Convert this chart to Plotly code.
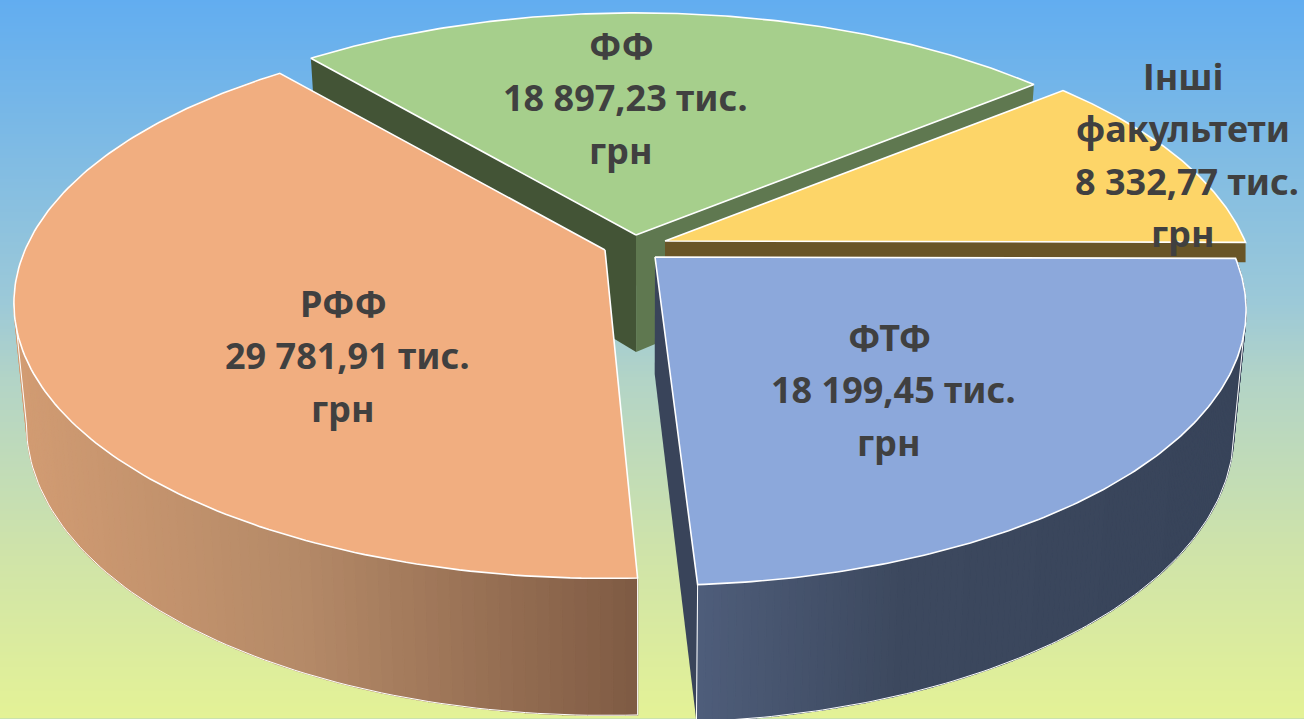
import numpy as np
import plotly.graph_objects as go

# ---- data ----
names = ["РФФ", "ФФ", "Інші факультети", "ФТФ"]
values = [29781.91, 18897.23, 8332.77, 18199.45]
value_labels = ["29 781,91 тис.", "18 897,23 тис.", "8 332,77 тис.", "18 199,45 тис."]
unit = "грн"

# ---- styling / layout (pixels) ----
W, H = 1304, 719
start_deg = 177.4
last_edge_trim = 0.8
RX, RY, K = 580.0, 265.0, 0.193
apex = [(605, 250), (636, 235), (665, 241), (655, 257)]
top_col = ["#F1AE80", "#A6CF8C", "#FDD568", "#8CA8DB"]
depth_front, depth_mid = 20.0, 117.0
shrink = 0.98
label_pos = [(347, 303), (625, 45), (1187, 76), (893, 337)]
text_indent = -4
LINE = 52.5
bg_stops = [[0, "#62ADF0"], [0.42, "#9CC9D8"], [0.53, "#B3D4C6"], [0.78, "#D0E4A8"], [1, "#E4F296"]]


def hex2rgb(h):
    return np.array([int(h[i:i + 2], 16) for i in (1, 3, 5)], float)


def mix(stops, x):
    xs = [p[0] for p in stops]
    cols = np.array([hex2rgb(p[1]) for p in stops])
    return "rgb(%d,%d,%d)" % tuple(np.interp(x, xs, cols[:, i]) for i in range(3))


def proj(theta_deg, r=1.0):
    t = np.radians(theta_deg)
    u, v = np.sin(t) * r, np.cos(t) * r
    s = 1 / (1 + K * v)
    return RX * u * s, -RY * v * s, v


def down(x, y, v):
    """Lower rim of the extruded body below a point of the upper face."""
    return W / 2 - 12 + (x - (W / 2 - 12)) * shrink, y + depth_mid - depth_front * v


def face(i, th0, th1):
    ts = np.linspace(th0, th1, 160)
    px, py, _ = proj(ts)
    ax, ay = apex[i]
    return [ax] + list(ax + px) + [ax], [ay] + list(ay + py) + [ay]


def poly(xs, ys, col, lw=0.0, lc=None):
    return go.Scatter(x=xs, y=ys, mode="lines", fill="toself", fillcolor=col,
                      line=dict(color=lc or col, width=lw), hoverinfo="skip", showlegend=False)


def cut_wall(i, th, col, drop=None):
    ax, ay = apex[i]
    px, py, v = proj(th)
    ex, ey = ax + px, ay + py
    if drop is None:
        bax, bay = down(ax, ay, 0)
        bex, bey = down(ex, ey, v)
    else:
        bax, bay, bex, bey = ax, ay + drop, ex, ey + drop
    return poly([ax, ex, bex, bax, ax], [ay, ey, bey, bay, ay], col)


def rim(i, th0, th1, stops, n=140):
    out = []
    ax, ay = apex[i]
    ts = np.linspace(th0, th1, n + 1)
    px, py, v = proj(ts)
    ex, ey = ax + px, ay + py
    bx, by = down(ex, ey, v)
    for j in range(n):
        mid = (ex[j] + ex[j + 1]) / 2
        c = mix(stops, mid)
        out.append(poly([ex[j], ex[j + 1], bx[j + 1], bx[j], ex[j]],
                        [ey[j], ey[j + 1], by[j + 1], by[j], ey[j]], c, 1.2))
    idx = np.where(v <= -K)[0]
    out.append(go.Scatter(x=[ex[idx[0]]] + list(bx[idx]) + [ex[idx[-1]]],
                          y=[ey[idx[0]]] + list(by[idx]) + [ey[idx[-1]]], mode="lines",
                          line=dict(color="#FFFFFF", width=1.0), hoverinfo="skip", showlegend=False))
    return out


total = sum(values)
spans = [v / total * 360 for v in values]
ang = [start_deg]
for sp in spans:
    ang.append(ang[-1] + sp)
ang[4] -= last_edge_trim

fig = go.Figure()
ys = np.arange(0, H + 1, 3)
fig.add_trace(go.Heatmap(x=[0, W], y=ys, z=[[float(y) / H] * 2 for y in ys], colorscale=bg_stops,
                         zmin=0, zmax=1, showscale=False, hoverinfo="skip"))

EDGE = dict(lw=1.6, lc="#FFFFFF")
# ФФ (back)
fig.add_trace(cut_wall(1, ang[1], "#435436"))
fig.add_trace(cut_wall(1, ang[2], "#5F7850"))
x, y = face(1, ang[1], ang[2])
fig.add_trace(poly(x, y, top_col[1], **EDGE))
# Інші
fig.add_trace(cut_wall(2, ang[3], "#695527", drop=20))
x, y = face(2, ang[2], ang[3])
fig.add_trace(poly(x, y, top_col[2], **EDGE))
# РФФ
for tr in rim(0, ang[0], ang[1], [[17, "#D29C73"], [300, "#B58A68"], [637, "#7F5B44"]]):
    fig.add_trace(tr)
x, y = face(0, ang[0], ang[1])
fig.add_trace(poly(x, y, top_col[0], **EDGE))
# ФТФ
fig.add_trace(cut_wall(3, ang[4] - 360, "#39445A"))
for tr in rim(3, ang[3], ang[4], [[695, "#4F5E7B"], [900, "#3D495F"], [1240, "#38445A"]]):
    fig.add_trace(tr)
x, y = face(3, ang[3], ang[4])
fig.add_trace(poly(x, y, top_col[3], **EDGE))

lines = []
for nm, vl in zip(names, value_labels):
    lines.append(nm.split(" ") + [vl, unit])
for (lx, ly), ls in zip(label_pos, lines):
    for k, t in enumerate(ls):
        dx = 0 if t in value_labels else text_indent
        fig.add_annotation(x=lx + dx, y=ly + k * LINE, text=t, showarrow=False, xanchor="center", yanchor="middle",
                           font=dict(family="Noto Sans", size=36, color="#404040", weight="bold"))

fig.update_xaxes(range=[0, W], visible=False, fixedrange=True)
fig.update_yaxes(range=[H, 0], visible=False, fixedrange=True)
fig.update_layout(width=W, height=H, margin=dict(l=0, r=0, t=0, b=0), showlegend=False,
                  paper_bgcolor="#B3D4C6", plot_bgcolor="#B3D4C6")
fig.write_html("out.html", config={"displayModeBar": False},
               post_script="document.body.style.margin='0';document.body.style.overflow='hidden';")
